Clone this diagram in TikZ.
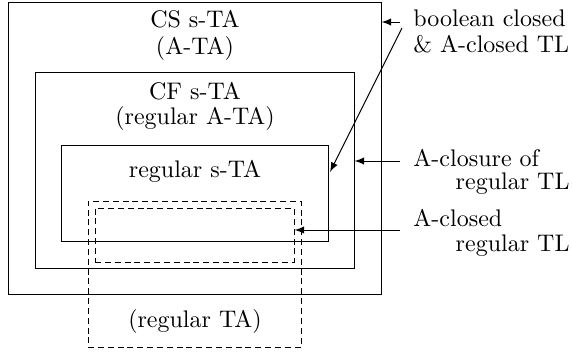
\documentclass[tikz,border=0pt]{standalone}
\usetikzlibrary{fit,arrows}
\begin{document}
\begin{tikzpicture}[x=0.41667pt,y=-0.41667pt,
  box/.style={draw,inner sep=0pt},
  dbox/.style={draw,dash pattern=on 2.5pt off 1.6pt,inner sep=0pt},
  txt/.style={inner sep=0pt,anchor=base},
  lbl/.style={inner sep=0pt,anchor=base west},
  arr/.style={-latex}]
\useasboundingbox (0,0) rectangle (572,354);
% corner coordinates
\coordinate (o1) at (8,2);   \coordinate (o2) at (381,294);
\coordinate (m1) at (35,72); \coordinate (m2) at (354,268);
\coordinate (i1) at (61,145); \coordinate (i2) at (328,241);
\coordinate (d1) at (88,201); \coordinate (d2) at (301,347);
\coordinate (e1) at (95,208); \coordinate (e2b) at (294,262);
% boxes
\node[box,fit=(o1)(o2)] (outer) {};
\node[box,fit=(m1)(m2)] (middle) {};
\node[box,fit=(i1)(i2)] (inner) {};
\node[dbox,fit=(d1)(d2)] (dashout) {};
\node[dbox,fit=(e1)(e2b)] (dashin) {};
% box texts
\node[txt] (t1) at (195,28) {CS s-TA};
\node[txt] (t2) at (195,55) {(A-TA)};
\node[txt] (t3) at (195,100) {CF s-TA};
\node[txt] (t4) at (195,125) {(regular A-TA)};
\node[txt] (t5) at (195,178) {regular s-TA};
\node[txt] (t6) at (195,328) {(regular TA)};
% right labels
\node[lbl] (l1) at (413,27) {boolean closed};
\node[lbl] (l2) at (413,53) {\& A-closed TL};
\node[lbl] (l3) at (413,167) {A-closure of};
\node[lbl,anchor=base east] (l4) at (570,190) {regular TL};
\node[lbl] (l5) at (413,227) {A-closed};
\node[lbl,anchor=base east] (l6) at (570,252) {regular TL};
% arrow coordinates
\coordinate (a1) at (400,22);
\coordinate (a2) at (402,28);
\coordinate (e2) at (330,172);
\coordinate (a3) at (400,161);
\coordinate (a4) at (400,230);
% arrows
\draw[arr] (a1) -- (outer.east |- a1);
\draw[arr] (a2) -- (e2);
\draw[arr] (a3) -- (middle.east |- a3);
\draw[arr] (a4) -- (dashin.east |- a4);
\end{tikzpicture}
\end{document}
